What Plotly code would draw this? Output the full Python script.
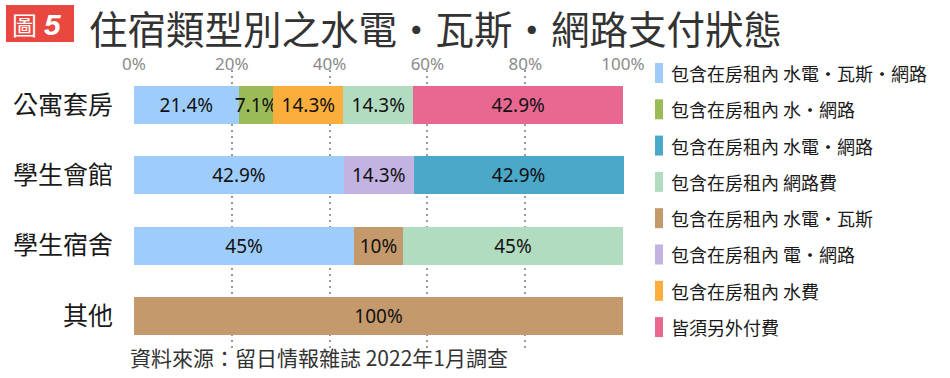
import plotly.graph_objects as go

categories = ["公寓套房", "學生會館", "學生宿舍", "其他"]

series_names = [
    "包含在房租內 水電・瓦斯・網路",
    "包含在房租內 水・網路",
    "包含在房租內 水費",
    "包含在房租內 水電・瓦斯",
    "包含在房租內 電・網路",
    "包含在房租內 水電・網路",
    "包含在房租內 網路費",
    "皆須另外付費",
]
series_colors = ["#9fcdfb", "#9bba58", "#fbae3c", "#c49a6c", "#c3b3e0", "#4aa8c8", "#b2dcc0", "#e96892"]
series_values = [
    [21.4, 42.9, 45, 0],
    [7.1, 0, 0, 0],
    [14.3, 0, 0, 0],
    [0, 0, 10, 100],
    [0, 14.3, 0, 0],
    [0, 42.9, 0, 0],
    [14.3, 0, 45, 0],
    [42.9, 0, 0, 0],
]

legend_order = [0, 1, 5, 6, 3, 4, 2, 7]

tick_vals = [0, 20, 40, 60, 80, 100]
tick_text = ["0%", "20%", "40%", "60%", "80%", "100%"]

title_text = "住宿類型別之水電・瓦斯・網路支付狀態"
badge_char = "圖"
badge_num = "<i><b>5</b></i>"
source_text = "資料來源：留日情報雜誌 2022年1月調查"

CJK = "Noto Sans CJK TC, Noto Sans, sans-serif"
NUM = "Noto Sans, Noto Sans CJK TC, sans-serif"

W, H = 950, 378
L, T = 134, 70
PW, PH = 490, 281
R, B = W - L - PW, H - T - PH


def px(x):
    return (x - L) / PW


def py(y):
    return (T + PH - y) / PH


fig = go.Figure()
for name, color, vals in zip(series_names, series_colors, series_values):
    labels = [("%g%%" % v) if v else "" for v in vals]
    fig.add_trace(go.Bar(
        y=categories, x=vals, name=name, orientation="h",
        marker=dict(color=color, line=dict(width=0)),
        text=labels, textposition="inside", insidetextanchor="middle",
        textangle=0, constraintext="none", cliponaxis=False,
        textfont=dict(family=NUM, size=19, color="#111"),
        width=0.54, showlegend=False, hoverinfo="skip",
    ))

shapes = []
annotations = []
leg_y0 = 73
leg_step = 36.3
for k, idx in enumerate(legend_order):
    yc = leg_y0 + k * leg_step
    shapes.append(dict(type="rect", xref="paper", yref="paper",
                       x0=px(655), x1=px(663), y0=py(yc + 10), y1=py(yc - 10),
                       fillcolor=series_colors[idx], line=dict(width=0)))
    annotations.append(dict(xref="paper", yref="paper", x=px(669), y=py(yc),
                            xanchor="left", yanchor="middle",
                            text=series_names[idx], showarrow=False,
                            font=dict(family=CJK, size=18, color="#1a1a1a")))

shapes.append(dict(type="rect", xref="paper", yref="paper",
                   x0=px(6), x1=px(74), y0=py(42), y1=py(5),
                   fillcolor="#e8483f", line=dict(width=0)))
annotations.append(dict(xref="paper", yref="paper", x=px(24), y=py(24),
                        xanchor="center", yanchor="middle", text=badge_char, showarrow=False,
                        font=dict(family=CJK, size=25, color="white")))
annotations.append(dict(xref="paper", yref="paper", x=px(53), y=py(24),
                        xanchor="center", yanchor="middle", text=badge_num, showarrow=False,
                        font=dict(family="Liberation Sans, Arial, sans-serif", size=30, color="white")))
annotations.append(dict(xref="paper", yref="paper", x=px(87), y=py(27),
                        xanchor="left", yanchor="middle", text=title_text, showarrow=False,
                        font=dict(family=CJK, size=38.5, color="#333333")))
annotations.append(dict(xref="paper", yref="paper", x=px(128), y=py(357),
                        xanchor="left", yanchor="middle", text=source_text, showarrow=False,
                        font=dict(family=CJK, size=21, color="#333333")))

fig.update_layout(
    width=W, height=H,
    margin=dict(l=L, r=R, t=T, b=B, pad=0),
    barmode="stack",
    plot_bgcolor="white", paper_bgcolor="white",
    shapes=shapes, annotations=annotations,
    xaxis=dict(range=[0, 100.2], side="top", tickvals=tick_vals, ticktext=tick_text,
               showgrid=True, gridcolor="#9a9a9a", gridwidth=1.5, griddash="2px,4px",
               zeroline=False, showline=False, ticks="", ticklen=0, ticklabelstandoff=-4,
               tickfont=dict(family=NUM, size=17, color="#8a8a8a"), fixedrange=True),
    yaxis=dict(autorange="reversed", showgrid=False, zeroline=False, showline=False,
               ticks="", ticklabelstandoff=20,
               tickfont=dict(family=CJK, size=25, color="#1a1a1a")),
    showlegend=False,
)

fig.write_html("out.html", config={"displayModeBar": False},
               post_script="document.body.style.margin='0';document.body.style.overflow='hidden';")
